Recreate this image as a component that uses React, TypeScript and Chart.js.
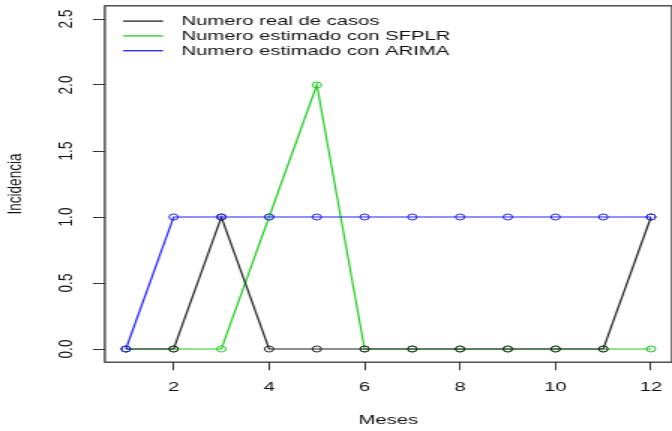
import React, { useEffect, useRef } from "react";
import { Chart, registerables } from "chart.js";

Chart.register(...registerables);

const MESES = [1, 2, 3, 4, 5, 6, 7, 8, 9, 10, 11, 12];
const REAL = [0, 0, 1, 0, 0, 0, 0, 0, 0, 0, 0, 1];
const SFPLR = [0, 0, 0, 1, 2, 0, 0, 0, 0, 0, 0, 0];
const ARIMA = [0, 1, 1, 1, 1, 1, 1, 1, 1, 1, 1, 1];
const LABELS = ["Numero real de casos", "Numero estimado con SFPLR", "Numero estimado con ARIMA"];
const X_TICKS = [2, 4, 6, 8, 10, 12];
const Y_TICKS = [0, 0.5, 1, 1.5, 2, 2.5];
const X_TITLE = "Meses";
const Y_TITLE = "Incidencia";

const FONT = "'Liberation Sans', Arial, sans-serif";
const FS = 13.5;
const SX = 1.5;
const CW = 452;
const CH = 431;

const boxPlugin = {
  id: "rBox",
  afterDraw(chart: any) {
    const { ctx, chartArea: a } = chart;
    ctx.save();
    ctx.strokeStyle = "#333";
    ctx.lineWidth = 1.3;
    ctx.strokeRect(a.left, a.top, a.right - a.left, a.bottom - a.top);
    ctx.restore();
  },
};

const legendPlugin = {
  id: "rLegend",
  afterDraw(chart: any) {
    const { ctx, chartArea: a } = chart;
    ctx.save();
    ctx.font = `${FS}px ${FONT}`;
    ctx.textBaseline = "middle";
    ctx.textAlign = "left";
    chart.data.datasets.forEach((ds: any, i: number) => {
      const y = a.top + 15.3 + i * 14.8;
      ctx.strokeStyle = ds.borderColor;
      ctx.lineWidth = 1.3;
      ctx.beginPath();
      ctx.moveTo(a.left + 12.2, y);
      ctx.lineTo(a.left + 38.8, y);
      ctx.stroke();
      ctx.fillStyle = "#111";
      ctx.fillText(ds.label, a.left + 51, y + 0.5);
    });
    ctx.restore();
  },
};

export default function App() {
  const ref = useRef<HTMLCanvasElement>(null);
  useEffect(() => {
    if (!ref.current) return;
    const mk = (label: string, data: number[], color: string, order: number) => ({
      label,
      data: MESES.map((m, i) => ({ x: m, y: data[i] })),
      borderColor: color,
      borderWidth: 1.2,
      pointBorderColor: color,
      pointBackgroundColor: "rgba(0,0,0,0)",
      pointBorderWidth: 1,
      pointRadius: 3,
      pointHoverRadius: 3,
      tension: 0,
      fill: false,
      order,
    });
    const tickFont = { family: FONT, size: FS };
    const chart = new Chart(ref.current, {
      type: "line",
      data: {
        datasets: [
          mk(LABELS[0], REAL, "#222222", 1),
          mk(LABELS[1], SFPLR, "#22CC22", 2),
          mk(LABELS[2], ARIMA, "#2222FF", 0),
        ],
      },
      options: {
        animation: false,
        responsive: false,
        devicePixelRatio: 1,
        events: [],
        layout: { padding: { top: 5.8, right: CW - 450.08, left: 0, bottom: 0 } },
        plugins: { legend: { display: false }, tooltip: { enabled: false } },
        scales: {
          x: {
            type: "linear",
            min: 0.56,
            max: 12.44,
            afterBuildTicks: (s: any) => {
              s.ticks = X_TICKS.map((v) => ({ value: v }));
            },
            afterFit: (s: any) => {
              s.height = CH - 362.2;
              s.paddingLeft = 0;
              s.paddingRight = 0;
              s.paddingTop = 0;
              s.paddingBottom = 0;
            },
            border: { display: false },
            grid: { drawOnChartArea: false, drawTicks: true, tickLength: 8, color: "#333", lineWidth: 1 },
            ticks: {
              autoSkip: false,
              maxRotation: 0,
              minRotation: 0,
              padding: 9,
              color: "#111",
              font: tickFont,
              callback: (v: any) => String(v),
            },
            title: { display: true, text: X_TITLE, color: "#111", font: tickFont, padding: { top: 0, bottom: 3 } },
          },
          y: {
            type: "linear",
            min: -0.1,
            max: 2.6,
            afterBuildTicks: (s: any) => {
              s.ticks = Y_TICKS.map((v) => ({ value: v }));
            },
            afterFit: (s: any) => {
              s.width = 69.92;
              s.paddingLeft = 0;
              s.paddingRight = 0;
              s.paddingTop = 0;
              s.paddingBottom = 0;
            },
            border: { display: false },
            grid: { drawOnChartArea: false, drawTicks: true, tickLength: 8, color: "#333", lineWidth: 1 },
            ticks: {
              autoSkip: false,
              minRotation: 90,
              maxRotation: 90,
              crossAlign: "center",
              padding: 7.8,
              color: "#111",
              font: tickFont,
              callback: (v: any) => Number(v).toFixed(1),
            },
            title: { display: true, text: Y_TITLE, color: "#111", font: tickFont, padding: { top: 2, bottom: 0 } },
          },
        },
      } as any,
      plugins: [boxPlugin, legendPlugin],
    });
    return () => chart.destroy();
  }, []);
  return (
    <div style={{ position: "fixed", left: 0, top: 0, width: 672, height: 431, overflow: "hidden", background: "#fff" }}>
      <div style={{ transform: `scaleX(${SX})`, transformOrigin: "0 0", width: CW, height: CH }}>
        <canvas ref={ref} width={CW} height={CH} style={{ display: "block" }} />
      </div>
    </div>
  );
}
